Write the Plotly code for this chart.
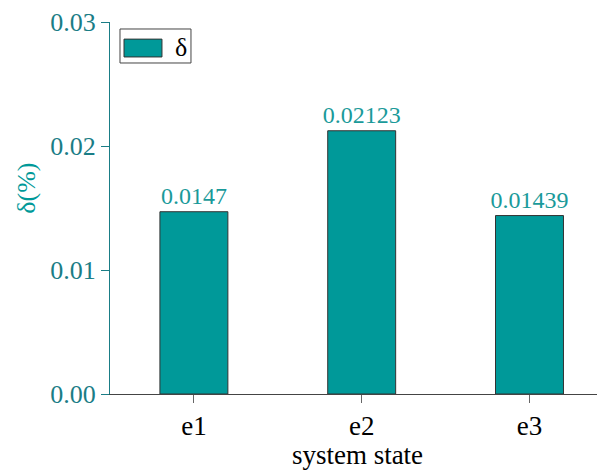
import plotly.graph_objects as go

categories = ["e1", "e2", "e3"]
values = [0.0147, 0.02123, 0.01439]
labels = ["0.0147", "0.02123", "0.01439"]
series_name = "δ"
y_title = "δ(%)"
x_title = "system state"
y_ticks = [0.0, 0.01, 0.02, 0.03]
y_tick_text = ["0.00", "0.01", "0.02", "0.03"]

teal = "#009999"
axis_teal = "#1a7d86"
label_teal = "#1a9a9a"
font = "Liberation Serif"

fig = go.Figure()
fig.add_trace(go.Bar(
    x=[0, 1, 2], y=values, name=series_name,
    marker=dict(color=teal, line=dict(color="#333333", width=1)),
    width=0.405,
    text=labels, textposition="outside", constraintext="none",
    textfont=dict(family=font, size=24, color=label_teal),
    cliponaxis=False, showlegend=False,
))

# legend drawn as a box with a wide swatch
fig.add_shape(type="rect", xref="paper", yref="paper",
              x0=0.0202, x1=0.1636, y0=0.8898, y1=0.9812,
              line=dict(color="#444444", width=1), fillcolor="white")
fig.add_shape(type="rect", xref="paper", yref="paper",
              x0=0.0283, x1=0.105, y0=0.906, y1=0.954,
              line=dict(color="#333333", width=1), fillcolor=teal)
fig.add_annotation(xref="paper", yref="paper", x=0.1434, y=0.932,
                   xanchor="center", yanchor="middle",
                   text=series_name, showarrow=False,
                   font=dict(family=font, size=26, color="black"))

# y-axis title (placed slightly above centre as in the reference)
fig.add_annotation(xref="paper", yref="paper", x=-0.168, y=0.554,
                   xanchor="center", yanchor="middle", textangle=-90,
                   text=y_title, showarrow=False,
                   font=dict(family=font, size=26, color=teal))

# page body has an 8px margin: shrink the figure so it fills the window
fig.update_layout(
    width=597, height=462,
    margin=dict(l=102, r=0, t=14, b=76, autoexpand=False),
    paper_bgcolor="white", plot_bgcolor="white",
    font=dict(family=font, size=26, color="black"),
    showlegend=False,
)
fig.update_xaxes(
    tickvals=[0, 1, 2], ticktext=categories, range=[-0.5, 2.45],
    showline=True, linecolor="#444444", linewidth=1,
    ticks="outside", ticklen=8, tickcolor="#666666",
    tickfont=dict(family=font, size=27, color="black"),
    title=dict(text=x_title, font=dict(family=font, size=27, color="black"), standoff=5),
    showgrid=False, zeroline=False, automargin=False,
)
fig.update_yaxes(
    range=[0, 0.03], tickvals=y_ticks, ticktext=y_tick_text,
    showline=True, linecolor=axis_teal, linewidth=1,
    ticks="outside", ticklen=8, tickcolor=axis_teal,
    tickfont=dict(family=font, size=26, color=axis_teal),
    showgrid=False, zeroline=False, automargin=False,
)

fig.write_html("out.html")
